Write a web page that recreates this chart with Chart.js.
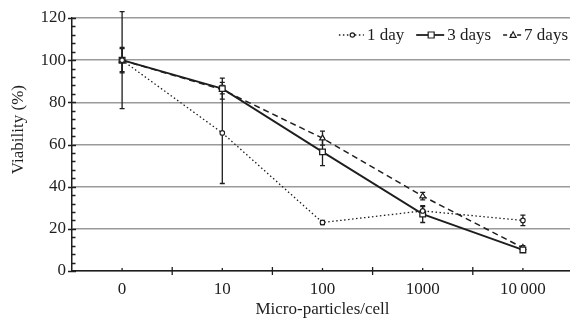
<!DOCTYPE html>
<html>
<head>
<meta charset="utf-8">
<script src="https://cdn.jsdelivr.net/npm/chart.js@4.4.1/dist/chart.umd.min.js"></script>
<style>
  html, body { margin: 0; padding: 0; background: #fff; }
  #wrap { width: 570px; height: 322px; position: relative; }
</style>
</head>
<body>
<div id="wrap"><canvas id="c" width="570" height="322"></canvas></div>
<script>
// ---- data ----
const categories = ['0', '10', '100', '1000', '10\u2009000'];
const day1 = [100, 65.5, 23, 28.5, 24];
const day1Err = [23, 24, 1, 2, 2.5];
const day3 = [100, 86.5, 56.5, 27, 10];
const day3Err = [6, 5, 6.5, 4, 1];
const day7 = [100, 86, 63, 35.5, 11];
const day7Err = [5.5, 2, 3.3, 1.8, 1];
const seriesNames = ['1 day', '3 days', '7 days'];
const yTicks = [0, 20, 40, 60, 80, 100, 120];

const INK = '#1e1e1e';
const FONT = "'Liberation Serif', 'Times New Roman', serif";
const errors = [day1Err, day3Err, day7Err];

function setDash(g, kind) {
  if (kind === 0) { g.setLineDash([1.5, 2.5]); g.lineWidth = 1.3; }
  else if (kind === 1) { g.setLineDash([]); g.lineWidth = 1.8; }
  else { g.setLineDash([4, 3]); g.lineWidth = 1.5; }
}
function drawMarker(g, kind, cx, cy) {
  g.setLineDash([]);
  g.lineWidth = 1.2;
  g.fillStyle = '#fff';
  g.beginPath();
  if (kind === 0) { g.arc(cx, cy, 2.2, 0, Math.PI * 2); }
  else if (kind === 1) { g.rect(cx - 3, cy - 3, 6, 6); }
  else { g.moveTo(cx, cy - 3.2); g.lineTo(cx + 3, cy + 2.3); g.lineTo(cx - 3, cy + 2.3); g.closePath(); }
  g.fill(); g.stroke();
}

// the plot area of the original runs a few pixels past the right edge of the picture
const extendRight = {
  id: 'extendRight',
  afterLayout(chart) {
    const extra = 3;
    chart.chartArea.right += extra;
    chart.chartArea.width = chart.chartArea.right - chart.chartArea.left;
    const x = chart.scales.x;
    x.right += extra;
    x.width += extra;
    x.configure();
  }
};

const errorBars = {
  id: 'errorBars',
  beforeDatasetsDraw(chart) {
    const ctx = chart.ctx;
    const y = chart.scales.y;
    ctx.save();
    ctx.strokeStyle = INK;
    ctx.lineWidth = 1.3;
    chart.data.datasets.forEach((ds, di) => {
      const meta = chart.getDatasetMeta(di);
      meta.data.forEach((pt, i) => {
        const e = errors[di][i];
        const v = ds.data[i];
        const yt = y.getPixelForValue(v + e);
        const yb = y.getPixelForValue(v - e);
        ctx.beginPath();
        ctx.moveTo(pt.x, yt); ctx.lineTo(pt.x, yb);
        ctx.moveTo(pt.x - 2.5, yt); ctx.lineTo(pt.x + 2.5, yt);
        ctx.moveTo(pt.x - 2.5, yb); ctx.lineTo(pt.x + 2.5, yb);
        ctx.stroke();
      });
    });
    ctx.restore();
  }
};

const axisTicks = {
  id: 'axisTicks',
  afterDraw(chart) {
    const ctx = chart.ctx;
    const x = chart.scales.x, y = chart.scales.y;
    const area = chart.chartArea;
    ctx.save();
    ctx.strokeStyle = INK;
    ctx.lineWidth = 1.3;
    ctx.beginPath();
    for (let v = 0; v <= 120; v += 4) {
      const py = Math.round(y.getPixelForValue(v)) + 0.5;
      if (v % 20 === 0) { ctx.moveTo(area.left - 4, py); ctx.lineTo(area.left + 4, py); }
      else { ctx.moveTo(area.left, py); ctx.lineTo(area.left + 3.5, py); }
    }
    const n = categories.length;
    for (let i = 0; i < n; i++) {
      const px = x.getPixelForValue(i);
      ctx.moveTo(px, area.bottom - 3); ctx.lineTo(px, area.bottom);
      if (i < n - 1) {
        const bx = (px + x.getPixelForValue(i + 1)) / 2;
        ctx.moveTo(bx, area.bottom - 4); ctx.lineTo(bx, area.bottom + 4);
      }
    }
    ctx.stroke();
    ctx.restore();
  }
};

// legend drawn inside the plot, top-right, right-aligned
const insideLegend = {
  id: 'insideLegend',
  afterDraw(chart) {
    const ctx = chart.ctx;
    const area = chart.chartArea;
    const symW = [25, 28, 18];
    const gapSym = 3, gapItem = 12;
    ctx.save();
    ctx.font = '17px ' + FONT;
    ctx.textBaseline = 'alphabetic';
    ctx.fillStyle = INK;
    ctx.strokeStyle = INK;
    const widths = seriesNames.map(s => ctx.measureText(s).width);
    let total = 0;
    seriesNames.forEach((s, i) => { total += symW[i] + gapSym + widths[i]; });
    total += gapItem * (seriesNames.length - 1);
    let cx = Math.min(area.right, chart.width) - 2 - total;
    const baseY = area.top + 22;
    const lineY = baseY - 5;
    seriesNames.forEach((s, i) => {
      ctx.beginPath();
      setDash(ctx, i);
      ctx.moveTo(cx, lineY); ctx.lineTo(cx + symW[i], lineY);
      ctx.stroke();
      drawMarker(ctx, i, cx + symW[i] / 2 + 1, lineY);
      ctx.fillStyle = INK;
      ctx.fillText(s, cx + symW[i] + gapSym, baseY);
      cx += symW[i] + gapSym + widths[i] + gapItem;
    });
    ctx.restore();
  }
};

new Chart(document.getElementById('c'), {
  type: 'line',
  data: {
    labels: categories,
    datasets: [
      {
        label: seriesNames[0], data: day1,
        borderColor: INK, borderWidth: 1.3, borderDash: [1.5, 2.5],
        pointStyle: 'circle', pointRadius: 2.3, pointBorderWidth: 1.1,
        pointBackgroundColor: '#fff', pointBorderColor: INK,
        tension: 0, fill: false
      },
      {
        label: seriesNames[1], data: day3,
        borderColor: INK, borderWidth: 1.8,
        pointStyle: 'rect', pointRadius: 4, pointBorderWidth: 1.3,
        pointBackgroundColor: '#fff', pointBorderColor: INK,
        tension: 0, fill: false
      },
      {
        label: seriesNames[2], data: day7,
        borderColor: INK, borderWidth: 1.5, borderDash: [6, 4],
        pointStyle: 'triangle', pointRadius: 3.3, pointBorderWidth: 1.2,
        pointBackgroundColor: '#fff', pointBorderColor: INK,
        tension: 0, fill: false
      }
    ]
  },
  options: {
    responsive: false,
    animation: false,
    events: [],
    layout: { autoPadding: false, padding: { left: 0, right: 0, top: 18, bottom: 0 } },
    plugins: {
      tooltip: { enabled: false },
      legend: { display: false }
    },
    scales: {
      x: {
        type: 'category',
        offset: true,
        grid: { display: false, drawTicks: false },
        border: { display: true, color: INK, width: 1.5 },
        ticks: { color: INK, font: { family: FONT, size: 17 }, padding: 8, maxRotation: 0, autoSkip: false },
        title: { display: true, text: 'Micro-particles/cell', color: INK, font: { family: FONT, size: 17 }, padding: { top: 0, bottom: 2 } },
        afterFit(s) { s.height = 51; s.paddingRight = 0; s.paddingLeft = 0; }
      },
      y: {
        min: 0, max: 120,
        afterBuildTicks(s) { s.ticks = yTicks.map(v => ({ value: v })); },
        grid: { color: '#9a9a9a', lineWidth: 1.5, drawTicks: false },
        border: { display: true, color: INK, width: 1.5 },
        ticks: { color: INK, font: { family: FONT, size: 17 }, padding: 6 },
        title: { display: true, text: '       Viability (%)', color: INK, font: { family: FONT, size: 17 }, padding: { top: 8, bottom: 0 } },
        afterFit(s) { s.width = 72; }
      }
    }
  },
  plugins: [extendRight, errorBars, axisTicks, insideLegend]
});
</script>
</body>
</html>
